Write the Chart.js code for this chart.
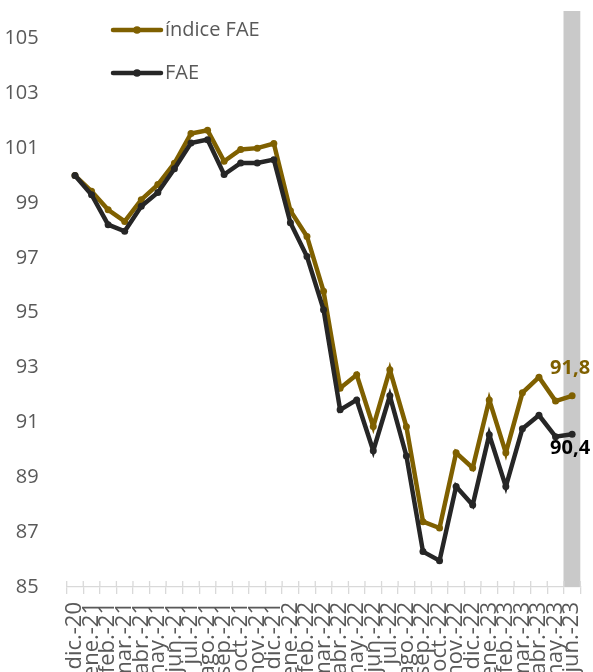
<!DOCTYPE html>
<html><head><meta charset="utf-8">
<script src="https://cdn.jsdelivr.net/npm/chart.js@4/dist/chart.umd.min.js"></script>
<style>html,body{margin:0;padding:0;background:#fff;overflow:hidden;}#wrap{width:593px;height:672px;position:relative;overflow:hidden;}</style>
</head><body><div id="wrap"><canvas id="c" width="593" height="672"></canvas></div>
<script>
const categories = ['dic.-20','ene.-21','feb.-21','mar.-21','abr.-21','may.-21','jun.-21','jul.-21','ago.-21','sep.-21','oct.-21','nov.-21','dic.-21','ene.-22','feb.-22','mar.-22','abr.-22','may.-22','jun.-22','jul.-22','ago.-22','sep.-22','oct.-22','nov.-22','dic.-22','ene.-23','feb.-23','mar.-23','abr.-23','may.-23','jun.-23'];
const indiceFAE = [100.0,99.43,98.75,98.33,99.12,99.67,100.45,101.53,101.65,100.52,100.95,101.0,101.17,98.72,97.78,95.78,92.25,92.74,90.85,92.92,90.84,87.38,87.15,89.89,89.34,91.82,89.89,92.08,92.65,91.78,91.97];
const fae = [100.0,99.3,98.21,97.97,98.88,99.38,100.25,101.19,101.31,100.04,100.46,100.46,100.58,98.28,97.05,95.11,91.46,91.82,89.97,91.97,89.78,86.29,85.96,88.66,87.99,90.55,88.66,90.77,91.26,90.48,90.57];
const seriesNames = ['índice FAE','FAE'];
const endLabels = ['91,8','90,4'];
const yTicks = [85,87,89,91,93,95,97,99,101,103,105];
const Y_MIN = 85, Y_MAX = 106;

const GOLD = '#7F6000', DARK = '#262626', TXT = '#595959', AXIS = '#d9d9d9', BAND = '#c9c9c9';
const band = categories.map((c,i)=> i === categories.length-1 ? Y_MAX : null);

const legendPlugin = {
  id:'customLegend',
  afterDraw(chart){
    const ctx = chart.ctx;
    const items = [{name:seriesNames[0], color:GOLD, y:30},{name:seriesNames[1], color:DARK, y:73}];
    ctx.save();
    items.forEach(it=>{
      ctx.strokeStyle = it.color; ctx.lineWidth = 4.5; ctx.lineCap='round';
      ctx.beginPath(); ctx.moveTo(113,it.y); ctx.lineTo(161,it.y); ctx.stroke();
      ctx.fillStyle = it.color; ctx.beginPath(); ctx.arc(137,it.y,3.8,0,Math.PI*2); ctx.fill();
      ctx.fillStyle = TXT; ctx.font = '20px "Open Sans"'; ctx.textBaseline='middle'; ctx.textAlign='left';
      ctx.fillText(it.name, 165, it.y);
    });
    ctx.restore();
  }
};

const endLabelPlugin = {
  id:'endLabels',
  afterDatasetsDraw(chart){
    const ctx = chart.ctx;
    ctx.save();
    ctx.font = 'bold 20px "Open Sans"'; ctx.textAlign='center'; ctx.textBaseline='middle';
    const m0 = chart.getDatasetMeta(1), m1 = chart.getDatasetMeta(2);
    const p0 = m0.data[m0.data.length-1], p1 = m1.data[m1.data.length-1];
    ctx.fillStyle = GOLD; ctx.fillText(endLabels[0], p0.x-2, p0.y-28);
    ctx.fillStyle = '#000'; ctx.fillText(endLabels[1], p1.x-2, p1.y+14);
    ctx.restore();
  }
};

const upTicksPlugin = {
  id:'upTicks',
  afterDraw(chart){
    const s = chart.scales.x, ctx = chart.ctx;
    const n = categories.length, step = s.width / n;
    ctx.save(); ctx.strokeStyle = AXIS; ctx.lineWidth = 1.3;
    for(let i=0;i<=n;i++){
      const x = s.left + i*step;
      ctx.beginPath(); ctx.moveTo(x, s.top-6); ctx.lineTo(x, s.top); ctx.stroke();
    }
    ctx.restore();
  }
};

function zeroPad(s){ s.paddingTop = 0; s.paddingBottom = 0; s.paddingLeft = 0; s.paddingRight = 0; }

new Chart(document.getElementById('c'), {
  data:{
    labels: categories,
    datasets:[
      {type:'bar', data: band, backgroundColor: BAND, barPercentage:1, categoryPercentage:1, order:3},
      {type:'line', label: seriesNames[0], data: indiceFAE, borderColor: GOLD, backgroundColor: GOLD, borderWidth:4.5, pointRadius:3.5, pointBorderWidth:0, pointBackgroundColor: GOLD, tension:0, order:1},
      {type:'line', label: seriesNames[1], data: fae, borderColor: DARK, backgroundColor: DARK, borderWidth:4.5, pointRadius:3.5, pointBorderWidth:0, pointBackgroundColor: DARK, tension:0, order:0}
    ]
  },
  options:{
    responsive:false, animation:false, devicePixelRatio:1,
    layout:{padding:{left:0,right:12.6,top:11,bottom:0}},
    plugins:{legend:{display:false}, tooltip:{enabled:false}},
    scales:{
      x:{
        offset:true,
        grid:{display:true, drawOnChartArea:false, offset:true, tickLength:7, color:AXIS, lineWidth:1.3},
        border:{display:true, color:AXIS, width:1.3},
        ticks:{minRotation:90, maxRotation:90, autoSkip:false, padding:8, color:TXT, font:{family:'Open Sans', size:22}},
        afterFit(s){ s.height = 85; zeroPad(s); }
      },
      y:{
        min:Y_MIN, max:Y_MAX,
        grid:{display:false}, border:{display:false},
        afterBuildTicks(s){ s.ticks = yTicks.map(v=>({value:v})); },
        ticks:{padding:20, color:TXT, font:{family:'Open Sans', size:20}},
        afterFit(s){ s.width = 66.7; zeroPad(s); }
      }
    }
  },
  plugins:[legendPlugin, endLabelPlugin, upTicksPlugin]
});
</script>
</body></html>
